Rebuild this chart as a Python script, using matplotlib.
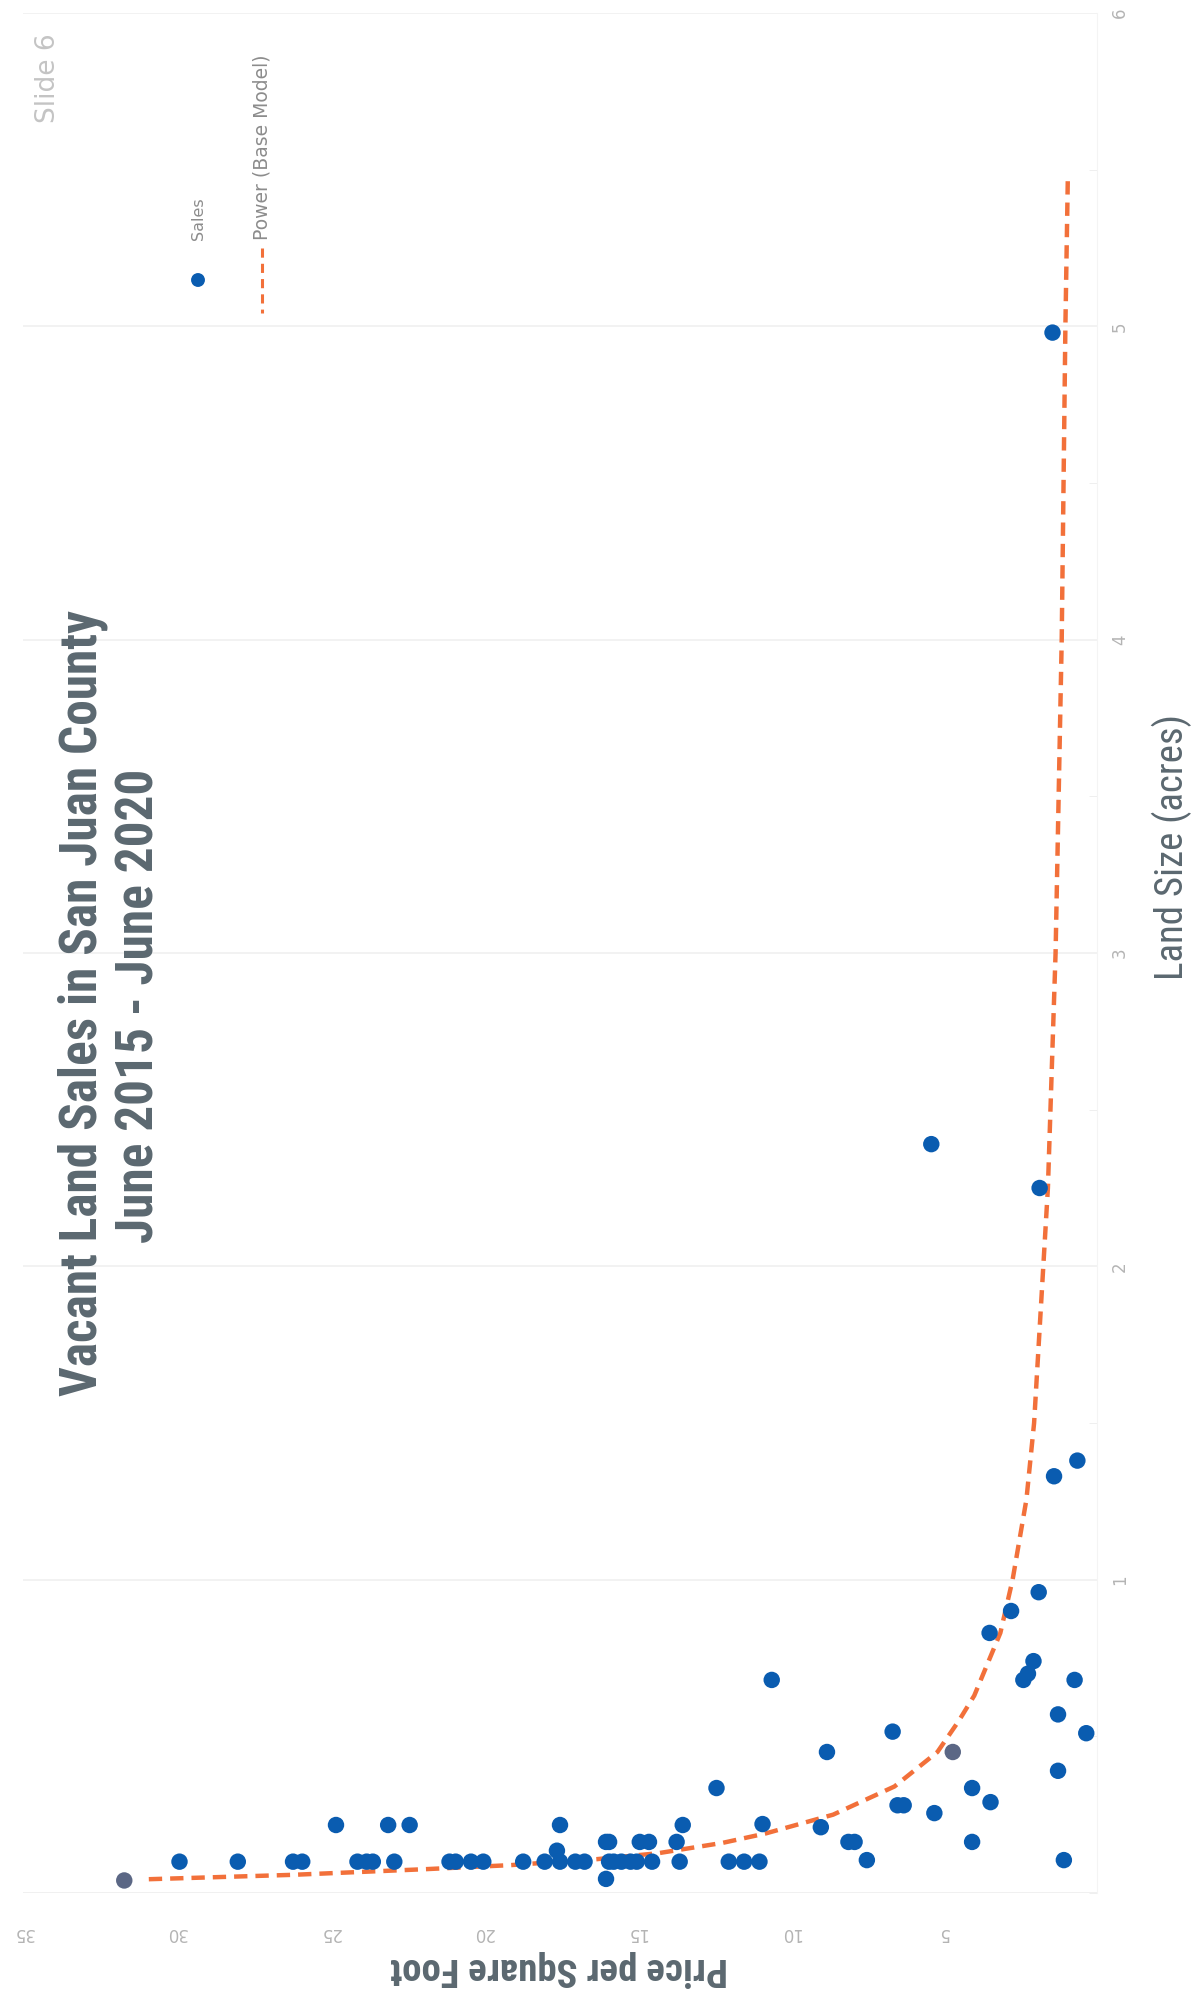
import matplotlib
matplotlib.use("Agg")
import matplotlib.pyplot as plt
from matplotlib.ticker import MultipleLocator
from matplotlib import font_manager

# sales: land size (acres) and price per square foot
land_acres = [0.10, 0.10, 0.10, 0.10, 0.10, 0.10, 0.10, 0.10, 0.10, 0.10,
              0.10, 0.10, 0.10, 0.10, 0.10, 0.10, 0.10, 0.10, 0.10, 0.10,
              0.10, 0.10, 0.10, 0.10, 0.10, 0.10, 0.10, 0.105, 0.105,
              0.135,
              0.163, 0.163, 0.163, 0.163, 0.163, 0.163, 0.163, 0.163,
              0.21,
              0.217, 0.217, 0.217, 0.217, 0.217, 0.22,
              0.255, 0.28, 0.28, 0.29,
              0.335, 0.335, 0.39, 0.45, 0.515, 0.51, 0.57,
              0.68, 0.68, 0.70, 0.68, 0.74, 0.83, 0.90, 0.96,
              1.33, 1.38, 2.25, 2.39, 4.98,
              0.045]
price_sqft = [29.9, 28.0, 26.2, 25.9, 24.1, 23.8, 23.6, 22.9, 21.1, 20.9,
              20.4, 20.0, 18.7, 18.0, 17.5, 17.0, 16.7, 15.9, 15.75, 15.5,
              15.2, 15.0, 14.5, 13.6, 12.0, 11.5, 11.0, 7.5, 1.08,
              17.6,
              16.0, 15.9, 14.9, 14.6, 13.7, 8.1, 7.9, 4.07,
              9.0,
              24.8, 23.1, 22.4, 17.5, 13.5, 10.9,
              5.3, 6.5, 6.3, 3.47,
              12.4, 4.07, 1.27, 8.8, 6.66, 0.35, 1.27,
              10.6, 2.4, 2.25, 0.73, 2.07, 3.5, 2.8, 1.9,
              1.4, 0.64, 1.87, 5.4, 1.45,
              16.0]

# two highlighted (grey) points
grey_land = [0.04, 0.45]
grey_price = [31.7, 4.7]

# power trend line
trend_land = [0.044, 0.058, 0.076, 0.089, 0.108, 0.127, 0.16, 0.19, 0.25,
              0.34, 0.45, 0.55, 0.63, 0.83, 1.0, 1.256, 1.5, 2.25, 3.0,
              4.0, 5.0, 5.48]
trend_price = [30.9, 26.2, 21.9, 19.1, 16.3, 14.3, 12.2, 10.8, 8.6,
               6.6, 5.2, 4.5, 4.0, 3.15, 2.75, 2.3, 2.05, 1.6, 1.35,
               1.15, 1.03, 0.95]

price_ticks = [5, 10, 15, 20, 25, 30, 35]
land_ticks = [1, 2, 3, 4, 5, 6]

# pick a narrow face if one is installed
names = set(f.name for f in font_manager.fontManager.ttflist)
narrow = 'DejaVu Sans'
for cand in ['Liberation Sans Narrow', 'Roboto Condensed', 'Open Sans Condensed',
             'Noto Sans Condensed', 'DejaVu Sans Condensed']:
    if cand in names:
        narrow = cand
        break

W, H = 1194, 2003
fig = plt.figure(figsize=(W / 100, H / 100), dpi=100)

ax = fig.add_axes([23 / W, 1 - 1893 / H, (1097 - 23) / W, (1893 - 13) / H])
ax.set_xlim(35, 0)
ax.set_ylim(0, 6)

for v in land_ticks:
    ax.axhline(v, color='#f2f2f2', lw=1.4, zorder=0)
ax.axhline(0, color='#f0f0f0', lw=1.4, zorder=0)

ax.plot(trend_price, trend_land, color='#f2703a', lw=3.2,
        dashes=(3, 1.8), zorder=2)
ax.scatter(price_sqft, land_acres, s=140, color='#0a5cb0',
           edgecolors='none', zorder=3)
ax.scatter(grey_price, grey_land, s=140, color='#5b6785',
           edgecolors='none', zorder=4)

for sp in ['top', 'left', 'bottom']:
    ax.spines[sp].set_visible(False)
ax.spines['right'].set_color('#f4f4f4')

ax.set_xticks(price_ticks)
ax.set_xticklabels([str(t) for t in price_ticks])
ax.tick_params(axis='x', length=0, pad=22, labelsize=12,
               labelcolor='#b4b4b4', labelrotation=180)
ax.yaxis.tick_right()
ax.set_yticks(land_ticks)
ax.set_yticklabels([str(t) for t in land_ticks])
ax.yaxis.set_minor_locator(MultipleLocator(0.5))
ax.tick_params(axis='y', which='major', length=0, pad=10, labelsize=12,
               labelcolor='#b4b4b4', labelrotation=90)
ax.tick_params(axis='y', which='minor', length=6, color='#ececec',
               direction='in')
for lab in ax.get_yticklabels():
    lab.set_va('center')

# overlay in pixel coordinates for the texts and legend
ov = fig.add_axes([0, 0, 1, 1])
ov.set_xlim(0, W)
ov.set_ylim(H, 0)
ov.axis('off')
ov.patch.set_alpha(0)

title_col = '#5b6870'
ov.text(83, 1003, 'Vacant Land Sales in San Juan County', rotation=90,
        ha='center', va='center', fontsize=37, color=title_col,
        family=narrow, fontstretch='condensed', fontweight='bold')
ov.text(140, 1006, 'June 2015 - June 2020', rotation=90,
        ha='center', va='center', fontsize=37, color=title_col,
        family=narrow, fontstretch='condensed', fontweight='bold')
ov.text(559, 1969, 'Price per Square Foot', rotation=180,
        ha='center', va='center', fontsize=28, color=title_col,
        family=narrow, fontstretch='condensed', fontweight='bold')
ov.text(1172, 847, 'Land Size (acres)', rotation=90,
        ha='center', va='center', fontsize=28, color=title_col,
        family=narrow, fontstretch='condensed')
ov.text(48, 78, 'Slide 6', rotation=90, ha='center', va='center',
        fontsize=19, color='#c4c4c4')

# legend
ov.scatter([198], [280], s=100, color='#0a5cb0', edgecolors='none')
ov.text(198, 240, 'Sales', rotation=90, ha='center', va='bottom',
        fontsize=11.5, color='#8c8c8c')
ov.plot([262, 262], [248, 313], color='#f2703a', lw=2.2, dashes=(3, 2))
ov.text(262, 240, 'Power (Base Model)', rotation=90, ha='center',
        va='bottom', fontsize=13.5, color='#8c8c8c')

fig.savefig('out.png', dpi=100, facecolor='white')
